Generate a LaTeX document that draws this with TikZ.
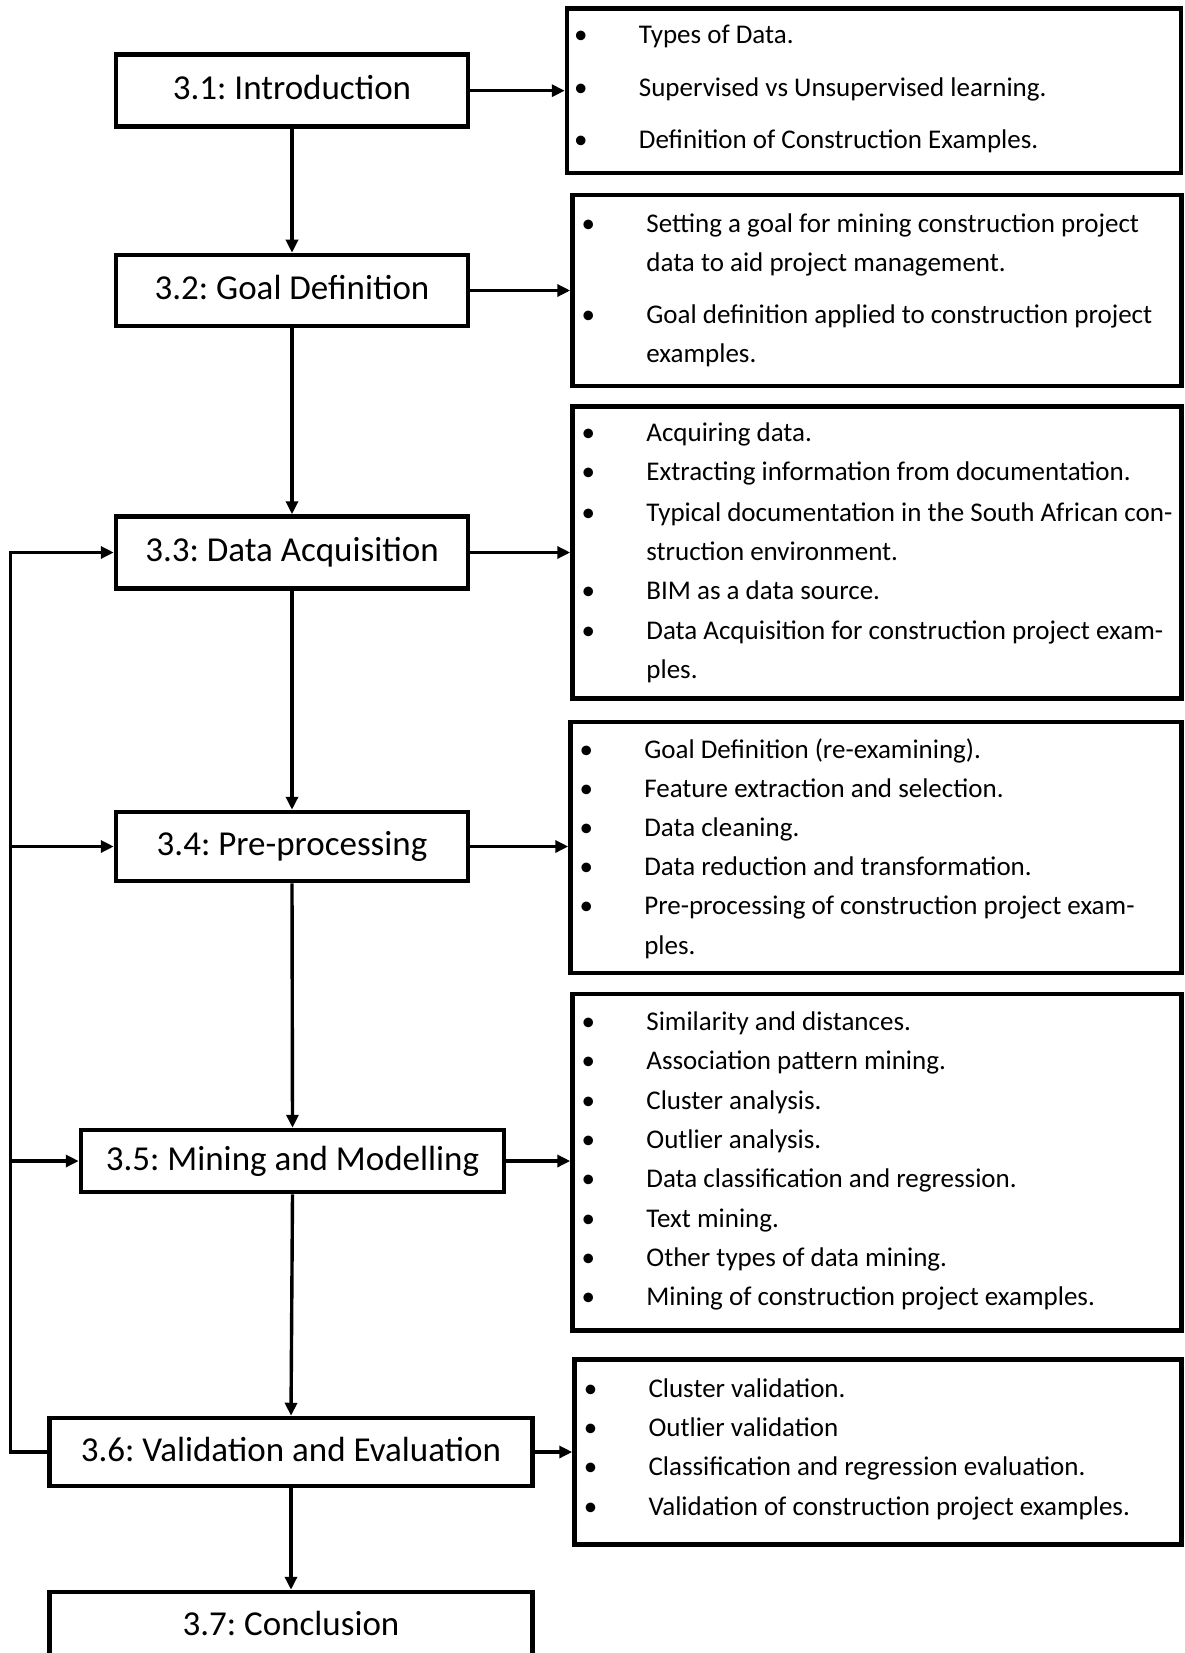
\documentclass[tikz,border=0pt]{standalone}
\usepackage{fontspec}
\setmainfont{Carlito}
\usetikzlibrary{arrows.meta}
\frenchspacing
% bullet column of the topic lists, and the matching indent for run-on lines
\newcommand{\bulitem}{\makebox[64.7pt][l]{•}}
\newcommand{\contline}{\hspace*{64.7pt}}
\begin{document}
\begin{tikzpicture}[x=1pt,y=-1pt,
  stage/.style={draw, line width=4.5pt, inner sep=0pt, text height=27pt, text depth=9pt,
    font=\fontsize{35}{42}\selectfont},
  topic/.style={draw, line width=4.5pt, inner sep=0pt},
  entry/.style={anchor=mid west, inner sep=0pt, yshift=-6.3pt, font=\fontsize{27}{32}\selectfont},
  flow/.style={line width=3.4pt, -{Triangle[length=13pt,width=12pt]}},
]
\useasboundingbox (0,0) rectangle (1184,1653);
\begin{scope}
\clip (0,0) rectangle (1184,1653);

% chapter stages
\node[stage, minimum width=352pt, minimum height=72pt] (s1) at (292,90.7)  {3.1: Introduction};
\node[stage, minimum width=352pt, minimum height=71pt] (s2) at (292,290.5) {3.2: Goal Definition};
\node[stage, minimum width=352pt, minimum height=72pt] (s3) at (292,552.5) {3.3: Data Acquisition};
\node[stage, minimum width=352pt, minimum height=69pt] (s4) at (292,846.5) {3.4: Pre-processing};
\node[stage, minimum width=423pt, minimum height=62pt] (s5) at (292.5,1161) {3.5: Mining and Modelling};
\node[stage, minimum width=483pt, minimum height=68pt] (s6) at (291,1452)  {3.6: Validation and Evaluation};
\node[stage, minimum width=483pt, minimum height=68pt] (s7) at (291,1626)  {3.7: Conclusion};

% topic boxes
\node[topic, minimum width=614pt, minimum height=164.5pt] (d1) at (874,90.7)   {};
\node[topic, minimum width=609pt, minimum height=191pt]   (d2) at (877,290.5)  {};
\node[topic, minimum width=609pt, minimum height=292pt]   (d3) at (877,552.5)  {};
\node[topic, minimum width=611pt, minimum height=251pt]   (d4) at (876,847.5)  {};
\node[topic, minimum width=609pt, minimum height=336.5pt] (d5) at (877,1162)   {};
\node[topic, minimum width=607pt, minimum height=185pt]   (d6) at (878,1452)   {};

% 3.1 topics
\node[entry] (e1a) at (574,34.8)  {\bulitem Types of Data.};
\node[entry] (e1b) at (574,87.5)  {\bulitem Supervised vs Unsupervised learning.};
\node[entry] (e1c) at (574,140.2) {\bulitem Definition of Construction Examples.};

% 3.2 topics
\node[entry] (e2a) at (581.5,223.5) {\bulitem Setting a goal for mining construction project};
\node[entry] (e2b) at (581.5,262.5) {\contline data to aid project management.};
\node[entry] (e2c) at (581.5,315.2) {\bulitem Goal definition applied to construction project};
\node[entry] (e2d) at (581.5,354.2) {\contline examples.};

% 3.3 topics
\node[entry] (e3a) at (581.5,433.3) {\bulitem Acquiring data.};
\node[entry] (e3b) at (581.5,472.3) {\bulitem Extracting information from documentation.};
\node[entry] (e3c) at (581.5,512.4) {\bulitem Typical documentation in the South African con-};
\node[entry] (e3d) at (581.5,551.4) {\contline struction environment.};
\node[entry] (e3e) at (581.5,590.4) {\bulitem BIM as a data source.};
\node[entry] (e3f) at (581.5,630.5) {\bulitem Data Acquisition for construction project exam-};
\node[entry] (e3g) at (581.5,669.5) {\contline ples.};

% 3.4 topics
\node[entry] (e4a) at (579.4,749.6) {\bulitem Goal Definition (re-examining).};
\node[entry] (e4b) at (579.4,788.6) {\bulitem Feature extraction and selection.};
\node[entry] (e4c) at (579.4,827.6) {\bulitem Data cleaning.};
\node[entry] (e4d) at (579.4,866.6) {\bulitem Data reduction and transformation.};
\node[entry] (e4e) at (579.4,905.6) {\bulitem Pre-processing of construction project exam-};
\node[entry] (e4f) at (579.4,945.7) {\contline ples.};

% 3.5 topics
\node[entry] (e5a) at (581.5,1021.6) {\bulitem Similarity and distances.};
\node[entry] (e5b) at (581.5,1060.6) {\bulitem Association pattern mining.};
\node[entry] (e5c) at (581.5,1100.7) {\bulitem Cluster analysis.};
\node[entry] (e5d) at (581.5,1139.7) {\bulitem Outlier analysis.};
\node[entry] (e5e) at (581.5,1178.7) {\bulitem Data classification and regression.};
\node[entry] (e5f) at (581.5,1218.8) {\bulitem Text mining.};
\node[entry] (e5g) at (581.5,1257.8) {\bulitem Other types of data mining.};
\node[entry] (e5h) at (581.5,1296.8) {\bulitem Mining of construction project examples.};

% 3.6 topics
\node[entry] (e6a) at (583.6,1388.5) {\bulitem Cluster validation.};
\node[entry] (e6b) at (583.6,1427.5) {\bulitem Outlier validation};
\node[entry] (e6c) at (583.6,1466.5) {\bulitem Classification and regression evaluation.};
\node[entry] (e6d) at (583.6,1506.6) {\bulitem Validation of construction project examples.};

% main sequence
\draw[flow] (s1.south) -- (s2.north);
\draw[flow] (s2.south) -- (s3.north);
\draw[flow] (s3.south) -- (s4.north);
\draw[flow] (s4.south) -- (s5.north);
\draw[flow] (s5.south) -- (s6.north);
\draw[flow] (s6.south) -- (s7.north);

% links to topic boxes
\draw[flow] (s1.east) -- (s1.east -| d1.west);
\draw[flow] (s2.east) -- (s2.east -| d2.west);
\draw[flow] (s3.east) -- (s3.east -| d3.west);
\draw[flow] (s4.east) -- (s4.east -| d4.west);
\draw[flow] (s5.east) -- (s5.east -| d5.west);
\draw[flow] (s6.east) -- (s6.east -| d6.west);

% feedback rail on the left
\coordinate (rail) at (10.5,0);
\draw[flow] (s6.west) -- (s6.west -| rail) |- (s3.west);
\draw[flow] (s4.west -| rail) -- (s4.west);
\draw[flow] (s5.west -| rail) -- (s5.west);
\end{scope}
\end{tikzpicture}
\end{document}
